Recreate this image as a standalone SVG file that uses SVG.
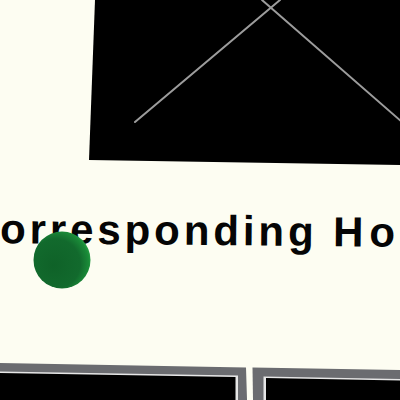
<svg xmlns="http://www.w3.org/2000/svg" width="400" height="400" viewBox="0 0 400 400">
  <style>
    .wire { stroke: #9c9c9c; stroke-width: 2; fill: none; stroke-linecap: round; }
    .frame { fill: #6b6c70; }
    .rim { fill: #e6e6e6; }
    .hole { fill: #000000; }
    .label { font-family: "Liberation Sans", Arial, sans-serif; font-size: 42px; font-weight: bold; fill: #050505; letter-spacing: 3.9px; }
  </style>
  <defs>
    <radialGradient id="ball" cx="0.4" cy="0.55" r="0.62" fx="0.35" fy="0.6">
      <stop offset="0" stop-color="#0f6228"/>
      <stop offset="0.7" stop-color="#126a2d"/>
      <stop offset="0.92" stop-color="#1a8a38"/>
      <stop offset="1" stop-color="#27a245"/>
    </radialGradient>
  </defs>
  <rect width="400" height="400" fill="#fdfdf2"/>
  <g id="screen">
    <polygon class="hole" points="95,0 400,0 400,165 89,160"/>
    <line class="wire" x1="135" y1="122" x2="280" y2="0"/>
    <line class="wire" x1="262" y1="0" x2="402" y2="122"/>
  </g>
  <g id="caption">
    <text class="label" x="0" y="245" transform="rotate(0.5 200 245)">orresponding H<tspan dx="2">o</tspan></text>
  </g>
  <g id="sphere">
    <circle cx="62" cy="260" r="28.5" fill="url(#ball)"/>
  </g>
  <g id="panel-left">
    <polygon class="frame" points="0,363 246,367.5 247,400 0,400"/>
    <polygon class="rim" points="0,371.5 238,375.5 238,400 0,400"/>
    <polygon class="hole" points="0,373 235.5,377 235.5,400 0,400"/>
  </g>
  <g id="panel-right">
    <polygon class="frame" points="252.5,367.5 400,370 400,400 253,400"/>
    <polygon class="rim" points="263.5,376.5 400,379 400,400 263.5,400"/>
    <polygon class="hole" points="266,378 400,380.5 400,400 266,400"/>
  </g>
</svg>
